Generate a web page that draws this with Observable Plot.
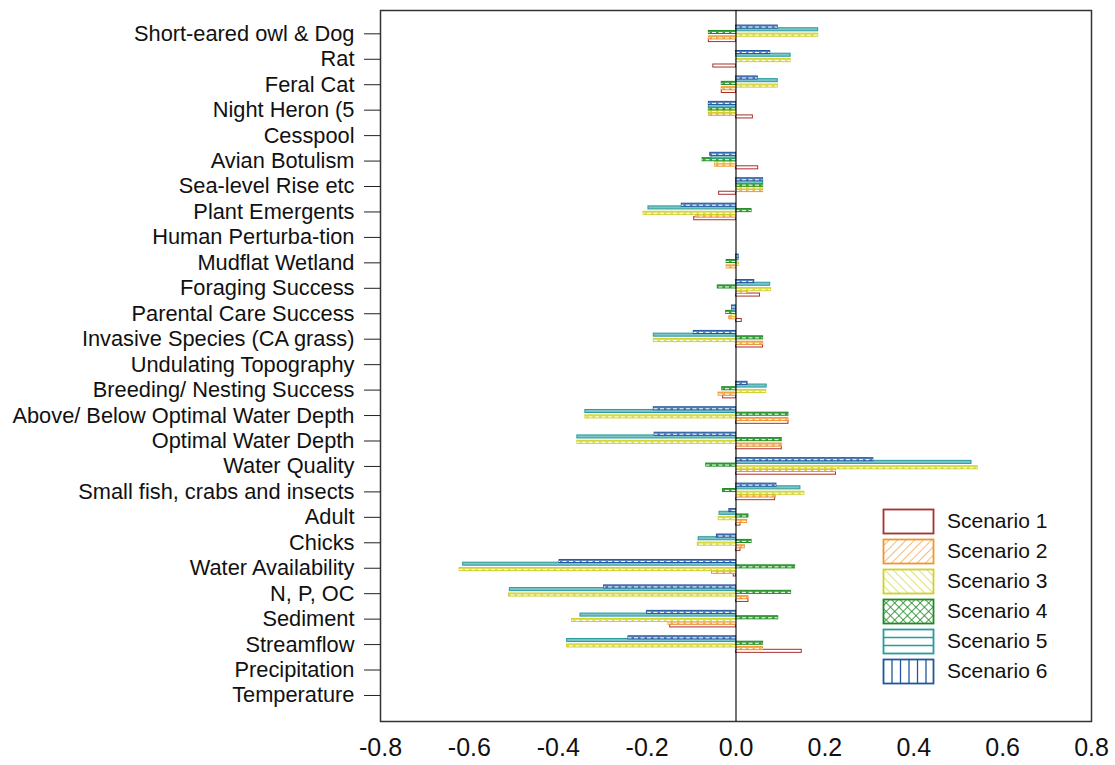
<!DOCTYPE html>
<html><head><meta charset="utf-8">
<script src="https://cdn.jsdelivr.net/npm/d3@7"></script>
<script src="https://cdn.jsdelivr.net/npm/@observablehq/plot@0.6"></script>
<style>
body{margin:0;background:#fff;font-family:Arial,"Liberation Sans",sans-serif}
#wrap{position:relative;width:1115px;height:765px}
#legend{position:absolute;left:882px;top:506px}
.item{display:flex;align-items:center;height:30px}
.item span{font-size:21px;margin-left:12px;color:#111}
</style></head>
<body><div id="wrap"><div id="chart"></div><div id="legend"></div></div>
<script>
const categories = ["Short-eared owl & Dog","Rat","Feral Cat","Night Heron (5","Cesspool","Avian Botulism","Sea-level Rise etc","Plant Emergents","Human Perturba-tion","Mudflat Wetland","Foraging Success","Parental Care Success","Invasive Species (CA grass)","Undulating Topography","Breeding/ Nesting Success","Above/ Below Optimal Water Depth","Optimal Water Depth","Water Quality","Small fish, crabs and insects","Adult","Chicks","Water Availability","N, P, OC","Sediment","Streamflow","Precipitation","Temperature"];
const scenarios = ["Scenario 1","Scenario 2","Scenario 3","Scenario 4","Scenario 5","Scenario 6"];
const scenario1 = [-0.061,-0.051,-0.032,0.038,0,0.050,-0.038,-0.094,0,0,0.054,0.013,0.061,0,-0.029,0.118,0.103,0.225,0.088,0.010,0.010,-0.005,0.028,-0.148,0.148,0,0];
const scenario2 = [-0.061,0,-0.032,-0.061,0,-0.047,0.061,-0.090,0,-0.021,0.026,-0.015,0.061,0,-0.039,0.118,0.103,0.225,0.090,0.025,0.020,-0.054,0.028,-0.152,0.061,0,0];
const scenario3 = [0.185,0.123,0.094,-0.061,0,-0.047,0.061,-0.208,0,0.007,0.079,-0.010,-0.185,0,0.068,-0.339,-0.357,0.544,0.154,-0.039,-0.086,-0.622,-0.511,-0.369,-0.380,0,0];
const scenario4 = [-0.061,0,-0.032,-0.061,0,-0.075,0.061,0.035,0,-0.021,-0.041,-0.022,0.061,0,-0.031,0.118,0.103,-0.067,-0.029,0.028,0.035,0.133,0.124,0.095,0.061,0,0];
const scenario5 = [0.185,0.123,0.094,-0.061,0,-0.055,0.061,-0.197,0,0.006,0.077,-0.009,-0.185,0,0.069,-0.339,-0.357,0.530,0.145,-0.037,-0.084,-0.614,-0.509,-0.350,-0.380,0,0];
const scenario6 = [0.094,0.077,0.049,-0.061,0,-0.058,0.061,-0.122,0,0.006,0.041,-0.009,-0.095,0,0.026,-0.185,-0.183,0.309,0.091,-0.015,-0.043,-0.397,-0.297,-0.200,-0.242,0,0];
const xTicks = [-0.8,-0.6,-0.4,-0.2,0,0.2,0.4,0.6,0.8];

const series = [scenario1,scenario2,scenario3,scenario4,scenario5,scenario6];
const strokes = ["#A8302E","#F0962A","#CFD12A","#1E8A22","#2A9A9C","#22579E"];
const fills   = ["#ffffff","#F5B25E","#DCDE5A","#3FA043","#7CC4C6","#5A84BE"];
const dashed  = [false,true,true,true,false,true];

const marks = [Plot.frame({stroke:"#333",strokeWidth:1.5})];
series.forEach((vals,k)=>{
  const rows = categories.map((c,i)=>({category:c, value:vals[i]})).filter(d=>d.value!==0);
  const dy = (2.5 - k) * 2.7;
  marks.push(Plot.barX(rows,{x:"value", y:"category", dy, insetTop:11.2, insetBottom:11.2,
    fill:fills[k], stroke:strokes[k], strokeWidth:1}));
  if (dashed[k]) marks.push(Plot.ruleY(rows,{y:"category", x1:0, x2:"value", dy, stroke:"white",
    strokeWidth:1, strokeDasharray:"4,2.5"}));
});
marks.push(Plot.ruleX([0],{stroke:"#000",strokeWidth:1.1}));
marks.push(Plot.axisY({tickSize:16, tickPadding:10, fontSize:21.8, label:null, stroke:"#222"}));
marks.push(Plot.axisX({ticks:xTicks, tickFormat:d=>d.toFixed(1), tickSize:0, tickPadding:17, fontSize:25, label:null}));

const chart = Plot.plot({
  width:1115, height:765,
  marginLeft:380, marginRight:24, marginTop:10, marginBottom:44,
  style:{fontFamily:"Arial, 'Liberation Sans', sans-serif", color:"#111", background:"#fff"},
  x:{domain:[-0.8,0.8]},
  y:{type:"band", domain:categories, range:[20.6,707.7], padding:0, round:false},
  marks
});
document.getElementById("chart").appendChild(chart);

// legend
const leg = d3.select("#legend");
const patterns = [
  null,
  {angle:45, sp:6, w:1.3},
  {angle:-45, sp:6, w:1.3},
  {cross:true, sp:6, w:1.6},
  {horiz:true},
  {vert:true}
];
scenarios.forEach((s,k)=>{
  const item = leg.append("div").attr("class","item");
  const svg = item.append("svg").attr("width",53).attr("height",27);
  const defs = svg.append("defs");
  const id = "pat"+k;
  const p = patterns[k];
  let fill = "white";
  if (p && !p.horiz && !p.vert) {
    const pat = defs.append("pattern").attr("id",id).attr("patternUnits","userSpaceOnUse")
      .attr("width",p.sp).attr("height",p.sp).attr("patternTransform",`rotate(${p.cross?45:p.angle})`);
    pat.append("rect").attr("width",p.sp).attr("height",p.sp).attr("fill","white");
    pat.append("line").attr("x1",0).attr("y1",0).attr("x2",0).attr("y2",p.sp).attr("stroke",strokes[k]).attr("stroke-width",p.w);
    if (p.cross) pat.append("line").attr("x1",0).attr("y1",0).attr("x2",p.sp).attr("y2",0).attr("stroke",strokes[k]).attr("stroke-width",p.w);
    fill = `url(#${id})`;
  }
  svg.append("rect").attr("x",1.5).attr("y",1.5).attr("width",50).attr("height",24)
    .attr("fill",fill).attr("stroke",strokes[k]).attr("stroke-width",1.8);
  if (p && p.horiz) {
    [9.5,17.5].forEach(y=>svg.append("line").attr("x1",1.5).attr("x2",51.5).attr("y1",y).attr("y2",y).attr("stroke",strokes[k]).attr("stroke-width",1.6));
  }
  if (p && p.vert) {
    [10,18.5,27,35.5,44].forEach(x=>svg.append("line").attr("x1",x).attr("x2",x).attr("y1",1.5).attr("y2",25.5).attr("stroke",strokes[k]).attr("stroke-width",1.3));
  }
  item.append("span").text(s);
});
</script>
</body></html>
